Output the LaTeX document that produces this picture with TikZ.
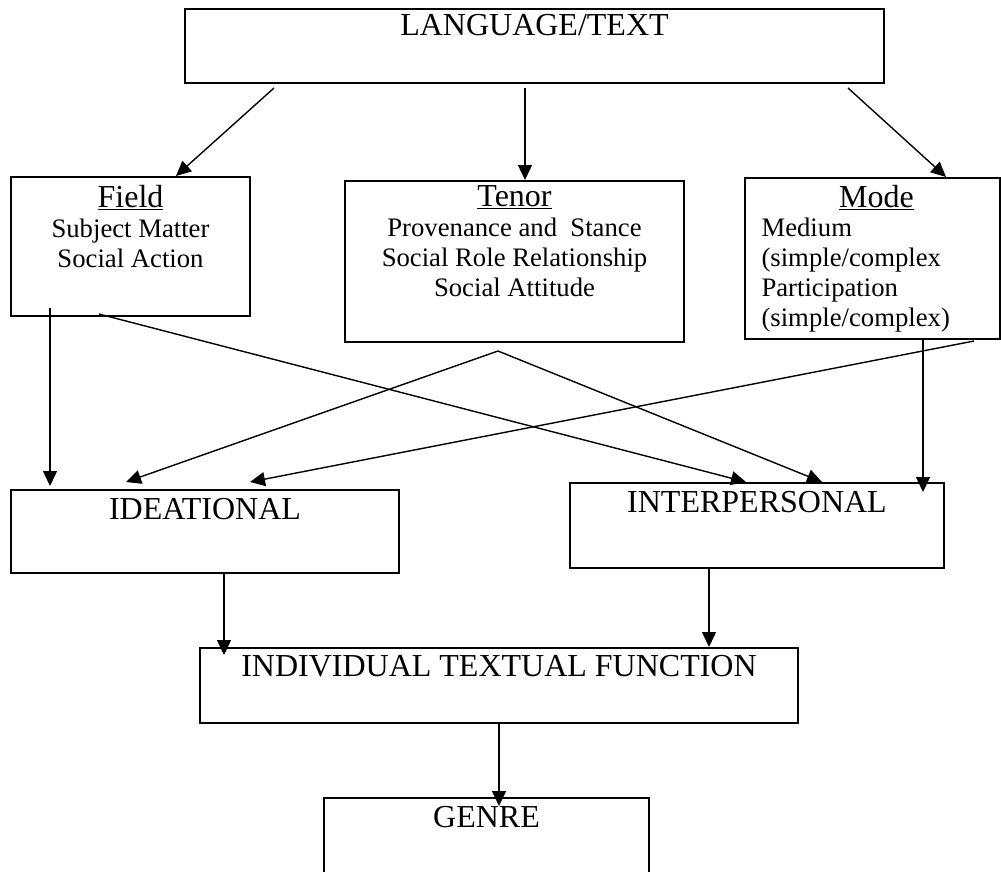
\documentclass[tikz,border=0pt]{standalone}
\usepackage{fontspec}
\setmainfont{Liberation Serif}
\usetikzlibrary{arrows.meta}
\newcommand\bigsz{\fontsize{32}{30}\selectfont}
\newcommand\smallsz{\fontsize{26.7}{30}\selectfont}

\begin{document}
\begin{tikzpicture}[x=1pt,y=-1pt]
\tikzstyle{box} = [draw, rectangle, line width=2pt, inner sep=0pt]
\tikzstyle{arr} = [line width=1.4pt, -{Triangle[length=15pt,width=14pt]}]

\useasboundingbox (0,0) rectangle (1001,872);
\clip (0,0) rectangle (1001,872);

\node[box, minimum width=699pt, minimum height=74pt, label={[font=\bigsz, anchor=base, yshift=-28pt] north:LANGUAGE/TEXT}] (lang) at (534.5,46) {};

% multi-line labels sit on their last baseline
\node[box, minimum width=239pt, minimum height=139pt, label={[font=\smallsz, align=center, anchor=base, yshift=-91pt] north:{\bigsz\underline{Field}}\\Subject Matter\\Social Action}] (field) at (130.5,246.5) {};

\node[box, minimum width=339pt, minimum height=161pt, label={[font=\smallsz, align=center, anchor=base, yshift=-116pt] north:{\bigsz\underline{Tenor}}\\Provenance and~ Stance\\Social Role Relationship\\Social Attitude}] (tenor) at (514.5,261.5) {};

\node[box, minimum width=255pt, minimum height=161pt, label={[font=\bigsz, anchor=base, xshift=4pt, yshift=-30pt] north:\underline{Mode}}, label={[font=\smallsz, align=left, anchor=base west, xshift=14pt, yshift=-149pt] north west:Medium\\(simple/complex\\Participation\\(simple/complex)}] (mode) at (872.5,258.5) {};

\node[box, minimum width=388pt, minimum height=83pt, label={[font=\bigsz, anchor=base, yshift=-30pt] north:IDEATIONAL}] (idea) at (205,531.5) {};

\node[box, minimum width=374pt, minimum height=85pt, label={[font=\bigsz, anchor=base, yshift=-30pt] north:INTERPERSONAL}] (inter) at (757,525.5) {};

\node[box, minimum width=598pt, minimum height=75pt, label={[font=\bigsz, anchor=base, yshift=-29pt] north:INDIVIDUAL TEXTUAL FUNCTION}] (indiv) at (499,685.5) {};

\node[box, minimum width=325pt, minimum height=85pt, label={[font=\bigsz, anchor=base, yshift=-30pt] north:GENRE}] (genre) at (486.5,840.5) {};

% from the top box
\draw[arr] ([xshift=90pt,yshift=-4pt]lang.south west) -- ([xshift=166pt]field.north west);
\draw[arr] ([xshift=-9.5pt,yshift=-4pt]lang.south) -- ([xshift=10.5pt]tenor.north);
\draw[arr] ([xshift=-37pt,yshift=-4pt]lang.south east) -- ([xshift=202pt]mode.north west);

% crossing lines
\draw[arr] ([xshift=40pt,yshift=9pt]field.south west) -- ([xshift=40pt,yshift=3pt]idea.north west);
\draw[arr] ([xshift=89pt,yshift=3pt]field.south west) -- ([xshift=177pt]inter.north west);
\coordinate (apex) at ([xshift=-16.5pt,yshift=-8pt]tenor.south);
\draw[arr] (apex) -- ([xshift=116pt,yshift=7pt]idea.north west);
\draw[arr] (apex) -- ([xshift=253pt]inter.north west);
\draw[arr] ([xshift=179pt]mode.south west) -- ([xshift=-22pt,yshift=-10pt]inter.north east);
\draw[arr] ([xshift=-27pt,yshift=-1pt]mode.south east) -- ([xshift=240pt,yshift=7pt]idea.north west);

% lower part
\draw[arr] ([xshift=19pt]idea.south) -- ([xshift=25pt,yshift=-8pt]indiv.north west);
\draw[arr] ([xshift=-48pt]inter.south) -- ([xshift=210pt]indiv.north);
\draw[arr] (indiv.south) -- ([xshift=12.5pt,yshift=-9pt]genre.north);

\end{tikzpicture}
\end{document}
